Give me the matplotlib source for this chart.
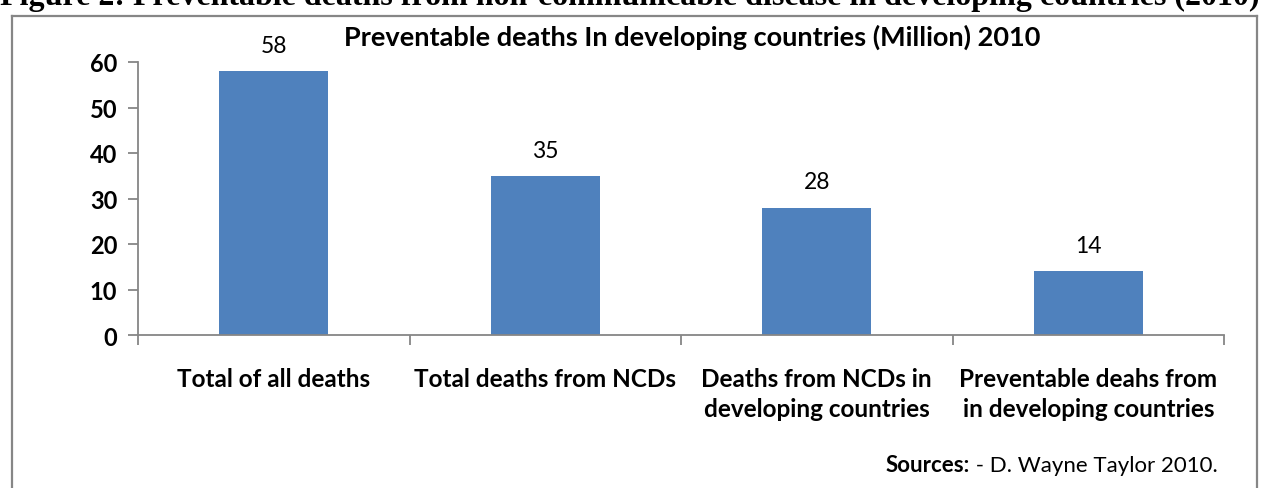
import matplotlib
matplotlib.use("Agg")
import matplotlib.pyplot as plt
from matplotlib.lines import Line2D
import numpy as np

categories = [
    "Total of all deaths",
    "Total deaths from NCDs",
    "Deaths from NCDs in\ndeveloping countries",
    "Preventable deahs from\nin developing countries",
]
values = [58, 35, 28, 14]
y_ticks = [0, 10, 20, 30, 40, 50, 60]

W, H = 1261, 489
BAR = "#4F81BD"
GRAY = "#868686"

plt.rcParams["font.family"] = ["Lato", "DejaVu Sans"]

fig = plt.figure(figsize=(W / 100, H / 100), dpi=100)


def fx(px):
    return px / W


def fy(py):
    return 1 - py / H


# -------------------------
# chart frame
# -------------------------
for xs, ys in [
    ((12, 12), (17, 495)),
    ((1257, 1257), (17, 495)),
    ((12, 1257), (17, 17)),
]:
    fig.add_artist(
        Line2D(
            [fx(xs[0]), fx(xs[1])],
            [fy(ys[0]), fy(ys[1])],
            color=GRAY,
            linewidth=1.6,
        )
    )

# -------------------------
# clipped figure caption
# -------------------------
fig.text(
    0.0,
    fy(5),
    "Figure 2: Preventable deaths from non-communicable disease in developing countries (2010)",
    family="Liberation Serif",
    fontweight="bold",
    fontsize=23,
    ha="left",
    va="baseline",
)

# -------------------------
# axes
# -------------------------
left, right, top, bottom = 138, 1224, 63, 336
ax = fig.add_axes([fx(left), fy(bottom), fx(right - left), (bottom - top) / H])

x = np.arange(len(categories))
ax.bar(x, values, width=0.4, color=BAR)

for xi, v in zip(x, values):
    ax.text(
        xi,
        v + 4.2,
        str(v),
        ha="center",
        va="baseline",
        fontsize=16.5,
        color="black",
    )

ax.set_xlim(-0.5, len(categories) - 0.5)
ax.set_ylim(0, 60)

ax.set_yticks(y_ticks)
ax.set_yticklabels([str(t) for t in y_ticks], fontsize=17, fontweight="bold")

ax.set_xticks(np.arange(len(categories) + 1) - 0.5)
ax.set_xticklabels([])
ax.set_xticks(x, minor=True)
ax.set_xticklabels(categories, minor=True, fontsize=17.5, fontweight="bold", linespacing=1.35)
ax.tick_params(axis="x", which="minor", length=0, pad=23)
ax.tick_params(axis="x", which="major", length=7, color=GRAY, width=1.3)
ax.tick_params(axis="y", length=7, color=GRAY, width=1.3, pad=8)

for side in ["top", "right"]:
    ax.spines[side].set_visible(False)
for side in ["left", "bottom"]:
    ax.spines[side].set_color(GRAY)
    ax.spines[side].set_linewidth(1.3)

# title
fig.text(
    fx(692),
    fy(37),
    "Preventable deaths In developing countries (Million) 2010",
    ha="center",
    va="center",
    fontsize=19.5,
    fontweight="bold",
)

# sources: bold lead-in, regular remainder placed right after it
src = fig.text(
    fx(886),
    fy(466),
    "Sources:",
    ha="left",
    va="center",
    fontsize=16,
    fontweight="bold",
)
fig.canvas.draw()
bb = src.get_window_extent()
fig.text(
    bb.x1 / W,
    fy(466),
    " - D. Wayne Taylor 2010.",
    ha="left",
    va="center",
    fontsize=16,
)

fig.savefig("out.png", dpi=100)
